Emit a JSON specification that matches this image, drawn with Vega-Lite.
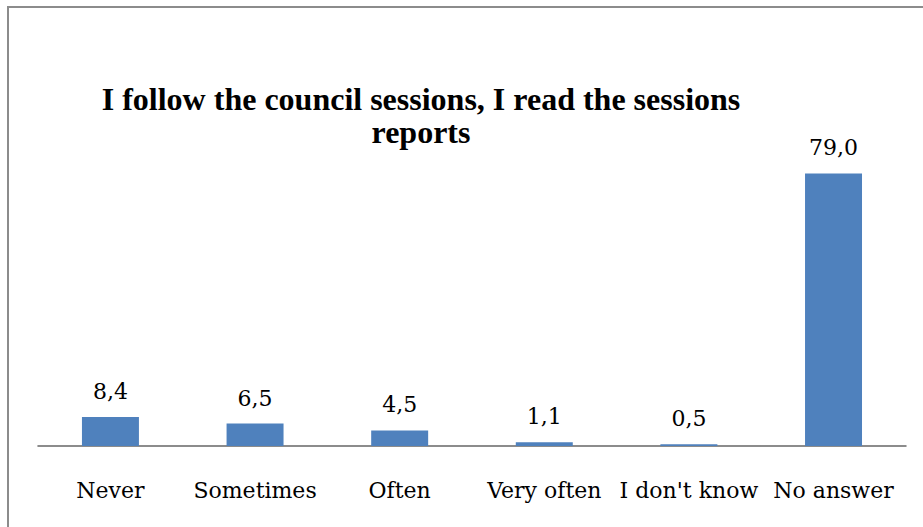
{
  "$schema": "https://vega.github.io/schema/vega-lite/v6.json",
  "autosize": "none",
  "width": 916,
  "height": 540,
  "padding": {"left": 8, "top": 7, "right": 0, "bottom": 0},
  "background": "white",
  "config": {
    "view": {"stroke": "#8c8c8c", "strokeWidth": 2},
    "locale": {"number": {"decimal": ",", "thousands": ".", "grouping": [3], "currency": ["", " €"]}}
  },
  "title": {
    "text": ["I follow the council sessions, I read the  sessions", "reports"],
    "font": "Liberation Serif",
    "fontSize": 32,
    "fontWeight": "bold",
    "color": "black",
    "lineHeight": 33,
    "anchor": "middle",
    "baseline": "alphabetic",
    "dx": -45,
    "offset": -168
  },
  "data": {
    "values": [
      {"answer": "Never", "value": 8.4},
      {"answer": "Sometimes", "value": 6.5},
      {"answer": "Often", "value": 4.5},
      {"answer": "Very often", "value": 1.1},
      {"answer": "I don't know", "value": 0.5},
      {"answer": "No answer", "value": 79.0}
    ]
  },
  "encoding": {
    "x": {
      "field": "answer",
      "type": "nominal",
      "sort": null,
      "scale": {"paddingInner": 0.606, "paddingOuter": 0.47, "align": 0.544},
      "axis": {
        "title": null,
        "orient": "bottom",
        "offset": -101,
        "domain": false,
        "ticks": false,
        "labelAngle": 0,
        "labelFont": "DejaVu Serif",
        "labelFontSize": 22,
        "labelColor": "black",
        "labelBaseline": "alphabetic",
        "labelPadding": 51
      }
    },
    "y": {
      "field": "value",
      "type": "quantitative",
      "scale": {"domain": [-29.28, 127.25], "nice": false, "zero": false},
      "axis": null
    }
  },
  "layer": [
    {
      "mark": {"type": "tick", "color": "#8c8c8c", "size": 146, "thickness": 2, "opacity": 1},
      "encoding": {"y": {"datum": 0, "type": "quantitative"}}
    },
    {
      "mark": {"type": "bar", "color": "#4f81bd"}
    },
    {
      "mark": {"type": "text", "font": "DejaVu Serif", "fontSize": 22, "color": "black", "baseline": "alphabetic", "dy": -18},
      "encoding": {"text": {"field": "value", "type": "quantitative", "format": ".1f"}}
    }
  ]
}
